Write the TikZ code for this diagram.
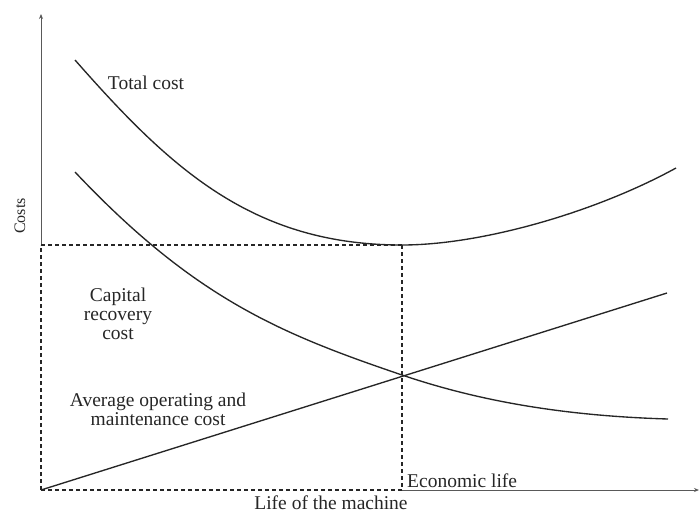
\documentclass[tikz,border=0pt]{standalone}
\usepackage{fontspec}
\setmainfont{Liberation Serif}
\usetikzlibrary{arrows.meta}
\begin{document}
\begin{tikzpicture}[x=1pt,y=-1pt,
  curve/.style={line width=1.35pt, black!85, line join=round},
  guide/.style={line width=1.2pt, black!85, dash pattern=on 4pt off 3pt},
  axis/.style={line width=0.9pt, black!65},
  tip/.style={-{Stealth[length=5pt,width=4pt]}},
  lbl/.style={font=\fontsize{19.5}{19}\selectfont, inner sep=0pt, align=center, text=black!85}]
\useasboundingbox (0,0) rectangle (700,516);
% key points
\coordinate (O) at (41,490);
\coordinate (Ytop) at (41,14);
\coordinate (Xend) at (699,490);
\coordinate (M) at (402,245);
\coordinate (Mx) at (402,490);
\coordinate (My) at (41,245);
\coordinate (X) at (402,375);
\coordinate (Oend) at (667,293);
\coordinate (TCs) at (75,60);
\coordinate (TCe) at (676,168);
\coordinate (CRs) at (75,172);
\coordinate (CRe) at (668,419);
% axes
\draw[axis,tip] (My) -- (Ytop);
\draw[axis,tip] (Mx) -- (Xend);
% dashed guides
\draw[guide] (O) -- (My);
\draw[guide] (My) -- (M);
\draw[guide] (M) -- (Mx);
\draw[guide] (O) -- (Mx);
% total cost
\draw[curve] (TCs) .. controls (170,168) and (252,245) .. (M)
                   .. controls (482,245) and (596,212) .. (TCe);
% capital recovery cost
\draw[curve] (CRs) .. controls (195,299.2) and (282,334.2) .. (X)
                   .. controls (482,402.2) and (568,416) .. (CRe);
% operating cost line
\draw[curve] (O) -- (Oend);
% labels
\node[lbl] (tc) at (146,83) {Total cost};
\node[lbl] (crc) at (118,314) {Capital\\recovery\\cost};
\node[lbl] (aom) at (158,409) {Average operating and\\maintenance cost};
\node[lbl, anchor=west] (el) at (407,481) {Economic life};
\node[lbl] (life) at (331,503) {Life of the machine};
\node[lbl, font=\fontsize{16}{17}\selectfont, rotate=90] (costs) at (20,216) {Costs};
\end{tikzpicture}
\end{document}
